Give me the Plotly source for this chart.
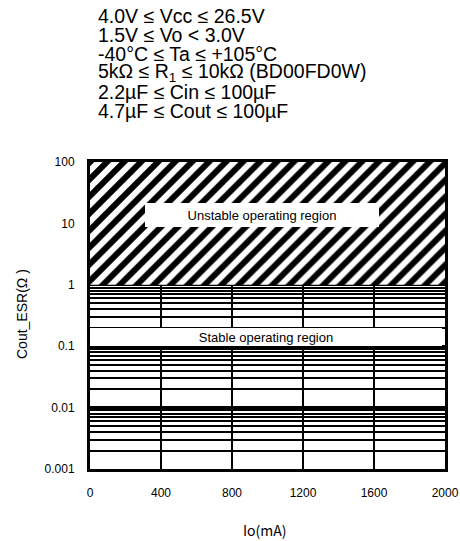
import plotly.graph_objects as go

# ---- data ----
HEADER_LINES = [
    "4.0V ≤ Vcc ≤ 26.5V",
    "1.5V ≤ Vo < 3.0V",
    "-40°C ≤ Ta ≤ +105°C",
    "5kΩ ≤ R<sub>1</sub> ≤ 10kΩ (BD00FD0W)",
    "2.2µF ≤ Cin ≤ 100µF",
    "4.7µF ≤ Cout ≤ 100µF",
]
IO_RANGE = [0, 2000]                 # mA
UNSTABLE_IO = [0, 2000, 2000, 0, 0]
UNSTABLE_ESR = [1, 1, 100, 100, 1]
X_TICKS = [0, 400, 800, 1200, 1600, 2000]
Y_TICKS = [0.001, 0.01, 0.1, 1, 10, 100]
Y_TICK_TEXT = ["0.001", "0.01", "0.1", "1", "10", "100"]
Y_MINOR = [0.002, 0.003, 0.004, 0.005, 0.006, 0.007, 0.008, 0.009,
           0.02, 0.03, 0.04, 0.05, 0.06, 0.07, 0.08, 0.09,
           0.2, 0.3, 0.4, 0.5, 0.6, 0.7, 0.8, 0.9]
UNSTABLE_LABEL = "Unstable operating region"
STABLE_LABEL = "Stable operating region"
X_TITLE = "Io(mA)"
Y_TITLE = "Cout_ESR(Ω )"

FONT = "Liberation Sans, Arial, sans-serif"

fig = go.Figure()
fig.add_trace(go.Scatter(
    x=UNSTABLE_IO, y=UNSTABLE_ESR, mode="lines", fill="toself",
    line=dict(width=0, color="rgba(0,0,0,0)"),
    fillcolor="white",
    fillpattern=dict(shape="/", fgcolor="black", bgcolor="white",
                     fgopacity=1, fillmode="replace",
                     size=12, solidity=0.5),
    hoverinfo="skip", showlegend=False,
))

W, H = 460, 541
ML, MR, MT, MB = 90, 15, 162, 72
PW, PH = W - ML - MR, H - MT - MB

def px_x(p):
    return (p - ML) / PW

def px_y(p):
    return 1 - (p - MT) / PH

annotations = []
for i, line in enumerate(HEADER_LINES):
    annotations.append(dict(
        text=line, xref="paper", yref="paper", x=px_x(96), y=px_y(16 + 19 * i),
        xanchor="left", yanchor="middle", showarrow=False,
        font=dict(family=FONT, size=19.5, color="black"),
    ))

annotations.append(dict(
    text=UNSTABLE_LABEL, xref="paper", yref="paper", x=px_x(262), y=px_y(215),
    xanchor="center", yanchor="middle", showarrow=False,
    bgcolor="white", width=234, height=24, borderpad=0, borderwidth=0,
    font=dict(family=FONT, size=13, color="black"),
))
annotations.append(dict(
    text=STABLE_LABEL, xref="paper", yref="paper", x=px_x(266), y=px_y(337),
    xanchor="center", yanchor="middle", showarrow=False,
    bgcolor="white", width=352, height=18, borderpad=0, borderwidth=0,
    font=dict(family=FONT, size=13, color="black"),
))
annotations.append(dict(
    text=Y_TITLE, xref="paper", yref="paper", x=px_x(22), y=px_y(314),
    xanchor="center", yanchor="middle", showarrow=False, textangle=-90,
    font=dict(family=FONT, size=14, color="black"),
))
annotations.append(dict(
    text=X_TITLE, xref="paper", yref="paper", x=px_x(265), y=px_y(530),
    xanchor="center", yanchor="middle", showarrow=False,
    font=dict(family="Noto Sans CJK JP, sans-serif", size=14, color="black"),
))

fig.update_layout(
    width=W, height=H, autosize=False,
    margin=dict(l=ML, r=MR, t=MT, b=MB, autoexpand=False),
    plot_bgcolor="white", paper_bgcolor="white",
    showlegend=False,
    annotations=annotations,
    xaxis=dict(
        range=IO_RANGE, tickmode="array", tickvals=X_TICKS,
        showgrid=True, gridcolor="black", gridwidth=2, zeroline=False,
        showline=True, linecolor="black", linewidth=3, mirror=True,
        ticks="outside", ticklen=11, tickcolor="rgba(0,0,0,0)",
        tickfont=dict(family=FONT, size=12, color="black"),
        automargin=False,
    ),
    yaxis=dict(
        type="log", range=[-3, 2], tickmode="array",
        tickvals=Y_TICKS, ticktext=Y_TICK_TEXT,
        showgrid=True, gridcolor="black", gridwidth=2.5, zeroline=False,
        minor=dict(tickmode="array", tickvals=Y_MINOR, showgrid=True,
                   gridcolor="black", gridwidth=1.5, ticks=""),
        showline=True, linecolor="black", linewidth=3, mirror=True,
        ticks="outside", ticklen=10, tickcolor="rgba(0,0,0,0)",
        tickfont=dict(family=FONT, size=12, color="black"),
        automargin=False,
    ),
)

fig.write_html(
    "out.html",
    config={"responsive": False, "displayModeBar": False},
    post_script=("document.body.style.margin='0';"
                 "document.body.style.overflow='hidden';"
                 "document.documentElement.style.overflow='hidden';"),
)
